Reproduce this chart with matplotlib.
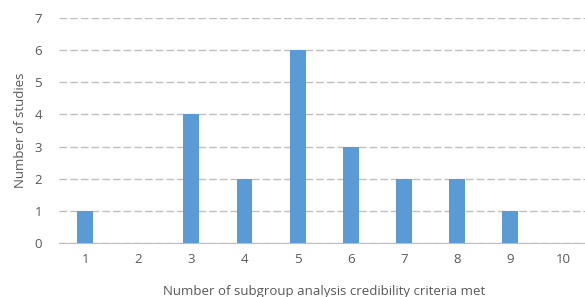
import matplotlib.pyplot as plt

criteria = [1, 2, 3, 4, 5, 6, 7, 8, 9, 10]
studies = [1, 0, 4, 2, 6, 3, 2, 2, 1, 0]
y_ticks = [0, 1, 2, 3, 4, 5, 6, 7]

plt.rcParams['font.family'] = ['Open Sans', 'DejaVu Sans']

W, H, DPI = 585, 297, 100
fig = plt.figure(figsize=(W / DPI, H / DPI), dpi=DPI)
ax = fig.add_axes([58.5 / W, 54 / H, 531.5 / W, 225 / H])

ax.bar(criteria, studies, width=0.3, color="#5b9bd5", zorder=3)
ax.set_xlim(0.5, 10.5)
ax.set_ylim(0, 7)
ax.set_yticks(y_ticks)
ax.set_xticks(criteria)
ax.grid(axis="y", color="#bfbfbf", linestyle=(0, (5.5, 2.2)), linewidth=1, zorder=0)
for s in ["top", "right", "left"]:
    ax.spines[s].set_visible(False)
ax.spines["bottom"].set_color("#bfbfbf")
ax.tick_params(length=0, labelsize=9.5, colors="#595959")
ax.tick_params(axis="y", pad=12)
ax.tick_params(axis="x", pad=7)
ax.set_xlabel("Number of subgroup analysis credibility criteria met",
              fontsize=9.5, color="#595959", labelpad=14)
ax.set_ylabel("Number of studies", fontsize=9.5, color="#595959", labelpad=5)

fig.savefig("out.png", dpi=DPI)
